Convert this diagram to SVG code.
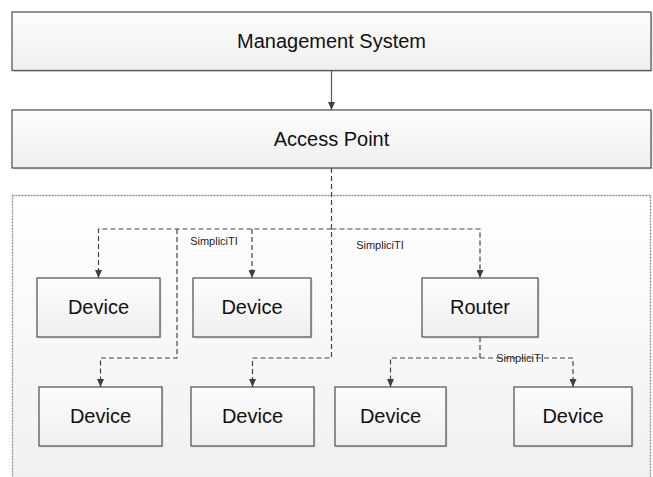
<svg xmlns="http://www.w3.org/2000/svg" width="653" height="477" viewBox="0 0 653 477">
  <defs>
    <linearGradient id="boxFill" x1="0" y1="0" x2="0" y2="1">
      <stop offset="0" stop-color="#fdfdfd"/>
      <stop offset="1" stop-color="#efefef"/>
    </linearGradient>
    <linearGradient id="areaFill" x1="0" y1="0" x2="0" y2="1">
      <stop offset="0" stop-color="#ffffff"/>
      <stop offset="1" stop-color="#f0f0f0"/>
    </linearGradient>
    <marker id="arrow" markerUnits="userSpaceOnUse" viewBox="0 0 8 7" refX="8" refY="3.5" markerWidth="8" markerHeight="7" orient="auto">
      <path d="M0,0 L8,3.5 L0,7 z" fill="#3f3f3f"/>
    </marker>
    <style>
      .shadow { fill: #dcdcdc; stroke: none; }
      .box { fill: url(#boxFill); stroke: #595959; stroke-width: 1.3; }
      .label { font-family: "Liberation Sans", Arial, sans-serif; font-size: 20px; fill: #111; text-anchor: middle; dominant-baseline: central; }
      .small { font-family: "Liberation Sans", Arial, sans-serif; font-size: 11px; fill: #222; text-anchor: middle; }
      .solid { fill: none; stroke: #595959; stroke-width: 1.2; }
      .dash { fill: none; stroke: #444; stroke-width: 1.2; stroke-dasharray: 5 3; }
      .area { fill: url(#areaFill); stroke: #8f8f8f; stroke-width: 1.3; stroke-dasharray: 2 1; }
    </style>
  </defs>

  <rect class="area" x="12.5" y="195.5" width="638" height="300"/>

  <g id="management-system">
    <rect class="shadow" x="13.5" y="13.5" width="639" height="58.5"/>
    <rect class="box" x="12" y="12" width="639" height="58.5"/>
    <text class="label" x="331.5" y="41">Management System</text>
  </g>

  <g id="access-point">
    <rect class="shadow" x="13.5" y="111.5" width="639" height="58"/>
    <rect class="box" x="12" y="110" width="639" height="58"/>
    <text class="label" x="331.5" y="139">Access Point</text>
  </g>

  <g id="device-1">
    <rect class="shadow" x="38.5" y="279.5" width="123" height="59"/>
    <rect class="box" x="37" y="278" width="123" height="59"/>
    <text class="label" x="98.5" y="307">Device</text>
  </g>
  <g id="device-2">
    <rect class="shadow" x="194.5" y="279.5" width="118" height="59"/>
    <rect class="box" x="193" y="278" width="118" height="59"/>
    <text class="label" x="252" y="307">Device</text>
  </g>
  <g id="router">
    <rect class="shadow" x="423.5" y="279.5" width="116" height="59"/>
    <rect class="box" x="422" y="278" width="116" height="59"/>
    <text class="label" x="480" y="307">Router</text>
  </g>
  <g id="device-3">
    <rect class="shadow" x="40.5" y="388.5" width="123" height="59"/>
    <rect class="box" x="39" y="387" width="123" height="59"/>
    <text class="label" x="100.5" y="416">Device</text>
  </g>
  <g id="device-4">
    <rect class="shadow" x="192.5" y="388.5" width="123" height="59"/>
    <rect class="box" x="191" y="387" width="123" height="59"/>
    <text class="label" x="252.5" y="416">Device</text>
  </g>
  <g id="device-5">
    <rect class="shadow" x="336.5" y="388.5" width="111" height="59"/>
    <rect class="box" x="335" y="387" width="111" height="59"/>
    <text class="label" x="390.5" y="416">Device</text>
  </g>
  <g id="device-6">
    <rect class="shadow" x="515.5" y="388.5" width="118" height="59"/>
    <rect class="box" x="514" y="387" width="118" height="59"/>
    <text class="label" x="573" y="416">Device</text>
  </g>

  <g id="labels">
    <rect x="189" y="235" width="50" height="14" fill="#ffffff"/>
    <text class="small" x="214" y="245">SimpliciTI</text>
    <rect x="355" y="239" width="50" height="13" fill="#ffffff"/>
    <text class="small" x="380" y="249">SimpliciTI</text>
    <rect x="496" y="353" width="48" height="13" fill="#ffffff"/>
    <text class="small" x="520" y="362">SimpliciTI</text>
  </g>

  <g id="connectors">
    <path class="solid" d="M331.5,70.5 V110" marker-end="url(#arrow)"/>
    <path class="dash" d="M331.5,168 V358 H252.5 V387" marker-end="url(#arrow)"/>
    <path class="dash" d="M331.5,229 H98.5 V278" marker-end="url(#arrow)"/>
    <path class="dash" d="M252,229 V278" marker-end="url(#arrow)"/>
    <path class="dash" d="M331.5,229 H480 V278" marker-end="url(#arrow)"/>
    <path class="dash" d="M177,229 V358 H100.5 V387" marker-end="url(#arrow)"/>
    <path class="dash" d="M480,337 V358 H390.5 V387" marker-end="url(#arrow)"/>
    <path class="dash" d="M480,358 H573 V387" marker-end="url(#arrow)"/>
  </g>
</svg>
